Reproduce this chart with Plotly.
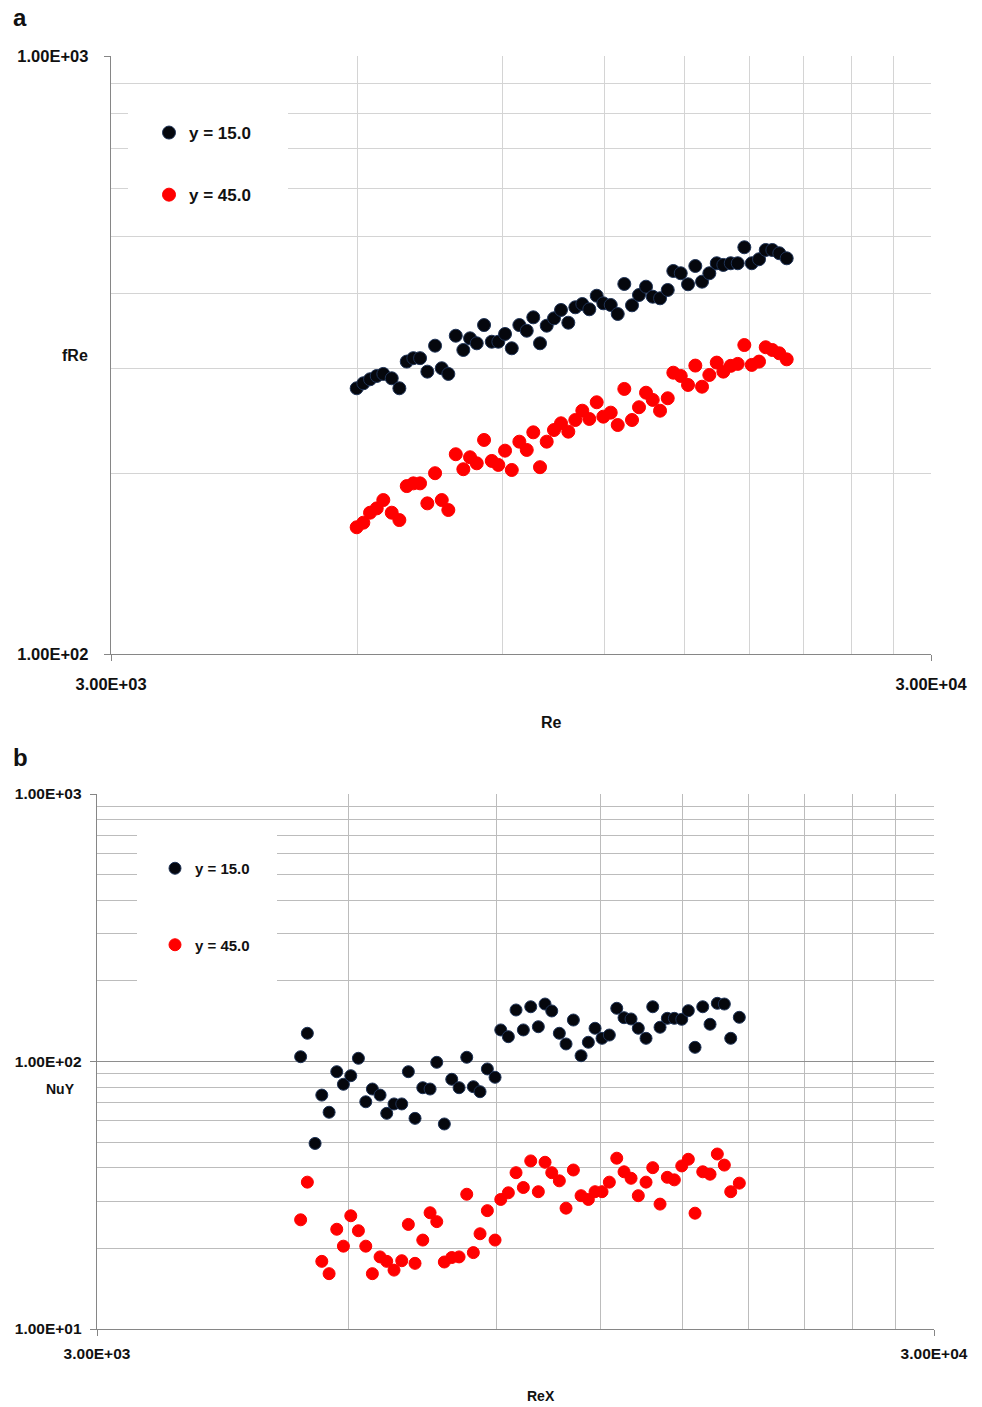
import math
import plotly.graph_objects as go

# the page body margin is removed after plotting (post_script), so the
# figure fills the whole 982x1407 window
W, H = 982, 1407
OFF = 0

# ---------------- data ----------------
re_a = [5980, 6093, 6209, 6327, 6445, 6599, 6742, 6883, 7012, 7145,
        7293, 7453, 7594, 7736, 7899, 8069, 8222, 8378, 8552, 8739,
        8902, 9071, 9244, 9443, 9641, 9820, 10007, 10197, 10408, 10615,
        10835, 11050, 11269, 11493, 11734, 11954, 12205, 12447, 12680, 12957,
        13214, 13477, 13733, 14018, 14324, 14551, 14857, 15164, 15478, 15772,
        16099, 16437, 16744, 17096, 17435, 17762, 18134, 18510, 18861, 19214,
        19594, 20005]
fre_y15 = [278.2, 283.6, 288.0, 291.7, 294.0, 289.1, 278.2, 308.3, 312.4, 312.4,
           296.6, 327.8, 300.5, 294.0, 340.6, 322.4, 337.2, 330.8, 354.9, 332.8,
           332.8, 342.9, 324.5, 354.9, 347.2, 365.6, 330.8, 354.0, 364.2, 376.1,
           358.1, 380.0, 384.8, 377.1, 397.3, 385.9, 383.4, 370.3, 415.7, 382.9,
           398.4, 411.4, 395.8, 393.4, 406.2, 437.0, 433.2, 415.2, 445.5, 419.4,
           433.2, 450.2, 447.3, 450.2, 450.2, 478.8, 450.2, 457.2, 473.8, 473.8,
           467.9, 458.9]
fre_y45 = [162.9, 165.8, 172.3, 175.2, 180.9, 172.3, 167.5, 190.9, 192.9, 192.9,
           178.6, 200.6, 180.9, 174.1, 215.8, 203.7, 213.3, 208.4, 228.0, 210.3,
           207.1, 218.8, 203.1, 226.5, 219.4, 234.8, 205.3, 226.5, 236.9, 243.1,
           235.4, 246.2, 255.2, 247.2, 263.6, 249.4, 253.3, 241.5, 277.5, 246.2,
           258.6, 273.5, 266.0, 255.2, 267.7, 295.4, 291.7, 281.8, 303.6, 279.9,
           292.8, 307.1, 296.6, 303.3, 305.6, 328.6, 304.4, 308.3, 325.8, 322.4,
           318.3, 311.0]

re_b = [5253, 5351, 5466, 5568, 5681, 5802, 5909, 6030, 6158, 6284,
        6399, 6536, 6657, 6792, 6938, 7065, 7196, 7351, 7500, 7639,
        7800, 7961, 8123, 8296, 8448, 8605, 8780, 8968, 9110, 9302,
        9501, 9694, 9893, 10102, 10290, 10482, 10703, 10902, 11124, 11362,
        11592, 11808, 12037, 12281, 12534, 12788, 13037, 13300, 13585, 13838,
        14119, 14405, 14686, 14988, 15262, 15546, 15879, 16201, 16529, 16851,
        17150, 17560]
nu_y15 = [104.2, 127.5, 49.4, 74.9, 64.6, 91.6, 82.2, 88.5, 102.8, 70.7,
          78.9, 74.9, 64.0, 69.4, 69.4, 91.6, 61.3, 79.8, 78.9, 99.3,
          58.4, 85.8, 79.8, 103.7, 80.5, 77.1, 93.8, 87.3, 131.2, 123.8,
          155.8, 131.2, 160.2, 134.9, 164.0, 154.5, 127.5, 116.3, 142.9, 105.1,
          118.0, 133.1, 122.1, 125.6, 158.1, 145.8, 144.2, 133.1, 122.1, 160.2,
          134.3, 145.0, 145.0, 143.8, 154.9, 113.0, 160.2, 137.8, 165.0, 164.0,
          122.1, 146.3]
nu_y45 = [25.6, 35.4, None, 17.9, 16.1, 23.6, 20.4, 26.5, 23.3, 20.4,
          16.1, 18.6, 17.9, 16.6, 18.0, 24.6, 17.6, 21.5, 27.2, 25.2,
          17.8, 18.5, 18.6, 31.9, 19.3, 22.7, 27.7, 21.5, 30.5, 32.3,
          38.4, 33.8, 42.5, 32.6, 42.0, 38.4, 35.8, 28.3, 39.3, 31.5,
          30.5, 32.6, 32.6, 35.4, 43.5, 38.7, 36.6, 31.5, 35.4, 40.1,
          29.3, 36.9, 36.1, 40.7, 43.1, 27.1, 38.7, 37.9, 45.1, 41.0,
          32.6, 35.1]

series_names = ["y = 15.0", "y = 45.0"]
x_ticks = [3000, 30000]
x_ticktext = ["3.00E+03", "3.00E+04"]
x_minor = [6000, 9000, 12000, 15000, 18000, 21000, 24000, 27000]
ya_ticks = [100, 1000]
ya_ticktext = ["1.00E+02", "1.00E+03"]
ya_minor = [200, 300, 400, 500, 600, 700, 800, 900]
yb_ticks = [10, 100, 1000]
yb_ticktext = ["1.00E+01", "1.00E+02", "1.00E+03"]
yb_minor = [20, 30, 40, 50, 60, 70, 80, 90, 200, 300, 400, 500, 600, 700, 800, 900]

# ---------------- style ----------------
FONT = "Liberation Sans"
BLACK_DOT = "#05070d"
BLACK_EDGE = "#1f3356"
RED_DOT = "#ff0000"
AXIS_COL = "#868686"
MAJOR_GRID = "#8e8e8e"
MINOR_A = "#d4d4d4"
MINOR_B = "#bcbcbc"


def px(x):
    return (x - OFF) / W


def py(y):
    return 1 - (y - OFF) / H


fig = go.Figure()

fig.add_trace(go.Scatter(x=re_a, y=fre_y15, mode="markers", name=series_names[0],
                         xaxis="x", yaxis="y", legend="legend", legendgroup="a1",
                         marker=dict(size=13, color=BLACK_DOT, line=dict(width=1, color=BLACK_EDGE))))
fig.add_trace(go.Scatter(x=re_a, y=fre_y45, mode="markers", name=series_names[1],
                         xaxis="x", yaxis="y", legend="legend", legendgroup="a2",
                         marker=dict(size=13, color=RED_DOT, line=dict(width=1, color=RED_DOT))))
fig.add_trace(go.Scatter(x=re_b, y=nu_y15, mode="markers", name=series_names[0],
                         xaxis="x2", yaxis="y2", legend="legend2", legendgroup="b1",
                         marker=dict(size=12, color=BLACK_DOT, line=dict(width=1, color=BLACK_EDGE))))
fig.add_trace(go.Scatter(x=re_b, y=nu_y45, mode="markers", name=series_names[1],
                         xaxis="x2", yaxis="y2", legend="legend2", legendgroup="b2",
                         marker=dict(size=12, color=RED_DOT, line=dict(width=1, color=RED_DOT))))

xr = [math.log10(3000), math.log10(30000)]


def xaxis(domain, anchor, fsize, mgrid, standoff):
    return dict(type="log", range=xr, domain=domain, anchor=anchor, automargin=False,
                tickmode="array", tickvals=x_ticks, ticktext=x_ticktext,
                ticks="outside", ticklen=6, tickcolor=AXIS_COL, tickwidth=1,
                ticklabelstandoff=standoff,
                tickfont=dict(family=FONT, size=fsize, color="#111111", weight="bold"),
                showline=True, linecolor=AXIS_COL, linewidth=1.3,
                showgrid=True, gridcolor=MAJOR_GRID, gridwidth=1.3,
                minor=dict(tickmode="array", tickvals=x_minor, showgrid=True,
                           gridcolor=mgrid, gridwidth=1, ticks=""),
                zeroline=False, fixedrange=True)


def yaxis(domain, anchor, yr, tv, tt, mv, fsize, mgrid, standoff):
    return dict(type="log", range=yr, domain=domain, anchor=anchor, automargin=False,
                tickmode="array", tickvals=tv, ticktext=tt,
                ticks="outside", ticklen=6, tickcolor=AXIS_COL, tickwidth=1,
                ticklabelstandoff=standoff,
                tickfont=dict(family=FONT, size=fsize, color="#111111", weight="bold"),
                showline=True, linecolor=AXIS_COL, linewidth=1.3,
                showgrid=True, gridcolor=MAJOR_GRID, gridwidth=1.3,
                minor=dict(tickmode="array", tickvals=mv, showgrid=True,
                           gridcolor=mgrid, gridwidth=1, ticks=""),
                zeroline=False, fixedrange=True)


fig.update_layout(
    width=W, height=H, autosize=False,
    margin=dict(l=0, r=0, t=0, b=0, autoexpand=False),
    paper_bgcolor="white", plot_bgcolor="white",
    font=dict(family=FONT, color="#111111"),
    xaxis=xaxis([px(111), px(931)], "y", 16.5, MINOR_A, 9),
    yaxis=yaxis([py(654), py(56)], "x", [2, 3], ya_ticks, ya_ticktext, ya_minor,
                16.5, MINOR_A, 12),
    xaxis2=xaxis([px(97), px(934)], "y2", 15.5, MINOR_B, 4),
    yaxis2=yaxis([py(1329), py(794)], "x2", [1, 3], yb_ticks, yb_ticktext, yb_minor,
                 15.5, MINOR_B, 5),
    legend=dict(x=px(149), y=py(115), xanchor="left", yanchor="top",
                bgcolor="rgba(0,0,0,0)", borderwidth=0, tracegroupgap=37,
                itemwidth=30, font=dict(family=FONT, size=17, color="#111111", weight="bold")),
    legend2=dict(x=px(155), y=py(852), xanchor="left", yanchor="top",
                 bgcolor="rgba(0,0,0,0)", borderwidth=0, tracegroupgap=54,
                 itemwidth=30, font=dict(family=FONT, size=15, color="#111111", weight="bold")),
    showlegend=True,
)

# white legend backgrounds covering the gridlines
fig.add_shape(type="rect", xref="paper", yref="paper", layer="above",
              x0=px(128), x1=px(288), y0=py(225), y1=py(100),
              fillcolor="white", line=dict(width=0))
fig.add_shape(type="rect", xref="paper", yref="paper", layer="above",
              x0=px(137), x1=px(277), y0=py(990), y1=py(825),
              fillcolor="white", line=dict(width=0))

ann = [
    ("a", 20, 17, 24),
    ("b", 20, 757, 24),
    ("fRe", 75, 355, 16),
    ("Re", 551, 722, 16),
    ("NuY", 60, 1089, 14),
    ("ReX", 541, 1396, 14),
]
for text, x, y, s in ann:
    fig.add_annotation(text=text, xref="paper", yref="paper", x=px(x), y=py(y),
                       xanchor="center", yanchor="middle", showarrow=False,
                       font=dict(family=FONT, size=s, color="#111111", weight="bold"))

fig.write_html(
    "out.html",
    config={"displayModeBar": False, "staticPlot": True},
    post_script="document.body.style.margin='0px';document.body.style.overflow='hidden';",
)
